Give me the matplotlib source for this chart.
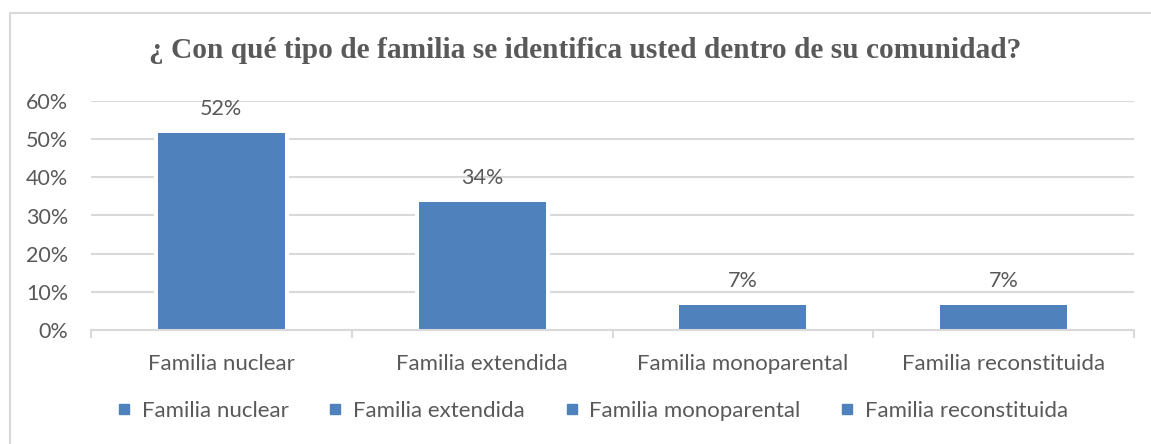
import matplotlib.pyplot as plt
from matplotlib.lines import Line2D
from matplotlib.patches import Rectangle
from matplotlib.ticker import PercentFormatter

# datos de la encuesta
categorias = ["Familia nuclear", "Familia extendida", "Familia monoparental", "Familia reconstituida"]
valores = [0.516, 0.335, 0.066, 0.066]
etiquetas = ["52%", "34%", "7%", "7%"]
yticks = [0, 0.1, 0.2, 0.3, 0.4, 0.5, 0.6]

azul = "#4f81bd"
gris = "#595959"
fuente = ["Lato", "DejaVu Sans"]
tam = 15.5

fig = plt.figure(figsize=(11.51, 4.44), dpi=100)
# marco del grafico (solo se ven arriba e izquierda)
fig.patches.append(Rectangle((9.5 / 1151, -0.05), 1.2, 1 - 13.5 / 444 + 0.05,
                             transform=fig.transFigure, fill=False,
                             edgecolor="#d9d9d9", linewidth=1.5))

ax = fig.add_axes([91 / 1151, 114 / 444, (1134 - 91) / 1151, (330 - 101) / 444])
x = range(len(categorias))
# hueco blanco alrededor de las barras (corta la cuadricula) y barra azul encima
ax.bar(x, valores, width=0.487, color="white", edgecolor="white", linewidth=5.8, zorder=2)
ax.bar(x, valores, width=0.487, color=azul, linewidth=0, zorder=3)

for i, (v, t) in enumerate(zip(valores, etiquetas)):
    ax.annotate(t, (i, v), xytext=(0, 10), textcoords="offset points",
                ha="center", va="bottom", fontsize=tam, color=gris, family=fuente)

ax.set_xlim(-0.5, len(categorias) - 0.5)
ax.set_ylim(0, 0.6)
ax.set_yticks(yticks)
ax.yaxis.set_major_formatter(PercentFormatter(1.0, decimals=0))
ax.grid(axis="y", color="#d9d9d9", linewidth=1.5, zorder=0)
ax.set_axisbelow(True)

for s in ["top", "right", "left"]:
    ax.spines[s].set_visible(False)
ax.spines["bottom"].set_color("#d9d9d9")
ax.spines["bottom"].set_linewidth(1.5)
ax.spines["bottom"].set_zorder(4)

ax.set_xticks(list(x))
ax.set_xticklabels(categorias)
ax.set_xticks([i - 0.5 for i in range(len(categorias) + 1)], minor=True)
ax.tick_params(axis="x", which="major", length=0, pad=17)
ax.tick_params(axis="x", which="minor", length=6, width=1.5, color="#d9d9d9")
ax.tick_params(axis="y", length=0, pad=16.5)
for lab in ax.get_xticklabels():
    lab.set_fontsize(16)
    lab.set_color(gris)
    lab.set_family(fuente)
for lab in ax.get_yticklabels():
    lab.set_fontsize(tam)
    lab.set_color(gris)
    lab.set_family(fuente)

fig.text(0.508, 1 - 51 / 444, "¿ Con qué tipo de familia se identifica usted dentro de su comunidad?",
         ha="center", va="center", fontsize=21.2, fontweight="bold", color=gris,
         family=["Liberation Serif", "DejaVu Serif"])

manejadores = [Line2D([], [], marker="s", linestyle="none", color=azul, markersize=7)
               for _ in categorias]
leg = fig.legend(manejadores, categorias, loc="center", bbox_to_anchor=(0.514, 1 - 411 / 444),
                 ncol=4, frameon=False, handlelength=0.8, handletextpad=0.4, columnspacing=1.7,
                 prop={"family": fuente, "size": 16})
for t in leg.get_texts():
    t.set_color(gris)

fig.savefig("out.png", dpi=100)
